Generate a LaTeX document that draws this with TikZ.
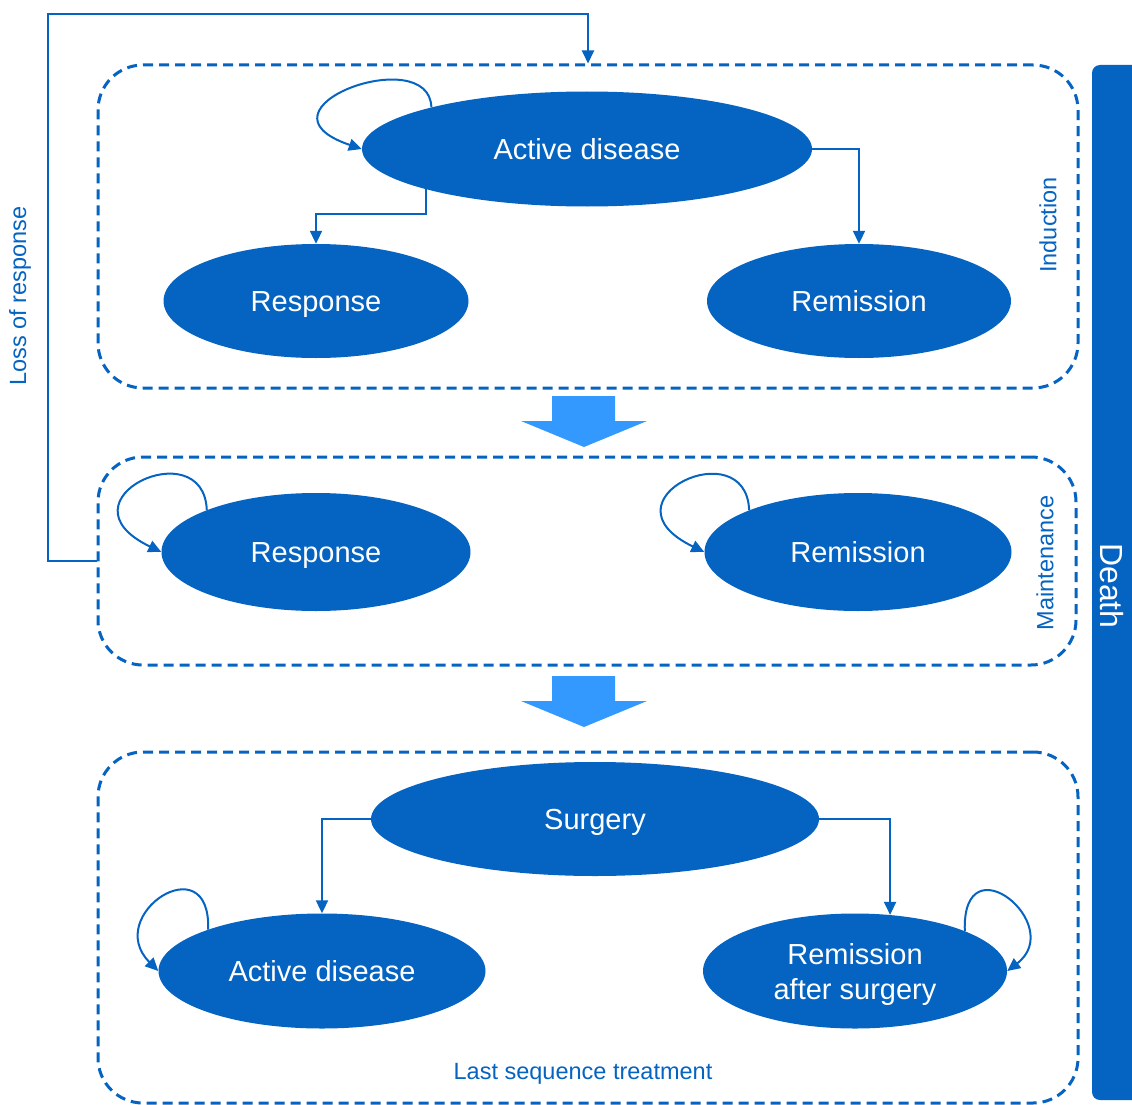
\documentclass[tikz,border=0pt]{standalone}
\usepackage{fontspec}
\setmainfont{Liberation Sans}
\usetikzlibrary{arrows.meta,shapes.geometric,calc}
\definecolor{dblue}{HTML}{0563C1}
\definecolor{lblue}{HTML}{3399FF}
\begin{document}
\begin{tikzpicture}[x=1pt,y=-1pt,
  state/.style={ellipse,fill=dblue,draw=none,inner sep=0pt,text=white,align=center,
    font=\fontsize{29}{35}\selectfont},
  one/.style={text height=21pt,text depth=0pt},
  phase/.style={rectangle,draw=dblue,line width=3pt,dash pattern=on 10pt off 6pt,rounded corners=45pt,inner sep=0pt},
  conn/.style={draw=dblue,line width=2pt,-{Triangle[length=13pt,width=12pt]}},
  lbl/.style={text=dblue,font=\fontsize{23.5}{28}\selectfont},
  bigarrow/.style={fill=lblue,draw=none}]
\useasboundingbox (0,0) rectangle (1132,1105);
% phases
\node[phase,minimum width=980pt,minimum height=323pt] (box1) at (588,226.5) {};
\node[phase,minimum width=978pt,minimum height=208pt] (box2) at (587,561) {};
\node[phase,minimum width=980pt,minimum height=351pt] (box3) at (588,927.5) {};
% death bar
\fill[dblue,rounded corners=8pt] (1140,65) -- (1092,65) -- (1092,1100) -- (1140,1100) -- cycle;
\node[rotate=-90,text=white,font=\fontsize{32}{38}\selectfont] (death) at (1112,586) {Death};
% labels
\node[lbl,rotate=90] (lind) at (1048,225) {Induction};
\node[lbl,rotate=90] (lmain) at (1045,563) {Maintenance};
\node[lbl] (llast) at (583,1074) {Last sequence treatment};
\node[lbl,rotate=90] (lloss) at (20,296) {Loss of response};
% states
\node[state,one,minimum width=450pt,minimum height=115pt] (ad1) at (587,149) {Active disease};
\node[state,one,minimum width=305pt,minimum height=114pt] (resp1) at (316,301) {Response};
\node[state,one,minimum width=304pt,minimum height=114pt] (rem1) at (859,301) {Remission};
\node[state,one,minimum width=309pt,minimum height=118pt] (resp2) at (316,552) {Response};
\node[state,one,minimum width=307pt,minimum height=118pt] (rem2) at (858,552) {Remission};
\node[state,one,minimum width=448pt,minimum height=114pt] (surg) at (595,819) {Surgery};
\node[state,one,minimum width=327pt,minimum height=115pt] (ad2) at (322,971) {Active disease};
\node[state,minimum width=304pt,minimum height=115pt] (ras) at (855,971) {\rule{0pt}{27pt}Remission\\after surgery};
% big arrows
\fill[bigarrow] (552,396) -- (615,396) -- (615,421) -- (647,421) -- (584,447) -- (521,421) -- (552,421) -- cycle;
\fill[bigarrow] (552,676) -- (615,676) -- (615,701) -- (647,701) -- (584,727) -- (521,701) -- (552,701) -- cycle;
% connectors
\draw[conn] (ad1.194.5) -- ++(0,25) -| (resp1.north);
\draw[conn] (ad1.east) -| (rem1.north);
\coordinate (lorcorner) at (48,14);
\draw[conn] (box2.west) -| (lorcorner) -| (box1.north);
\draw[conn] (surg.west) -| (ad2.north);
\draw[conn] (surg.east) -| (ras.58);
% self loops
\draw[conn] (ad1.165.6) .. controls +(-2,-66) and +(-118,-40) .. (ad1.west);
\draw[conn] (resp2.159.4) .. controls +(-3,-80) and +(-108,-52) .. (resp2.west);
\draw[conn] (rem2.159.4) .. controls +(-3,-80) and +(-108,-52) .. (rem2.west);
\draw[conn] (ad2.160.4) .. controls +(3,-86) and +(-56,-56) .. (ad2.west);
\draw[conn] (ras.20.5) .. controls +(-3,-92) and +(60,-46) .. (ras.east);
\end{tikzpicture}
\end{document}
